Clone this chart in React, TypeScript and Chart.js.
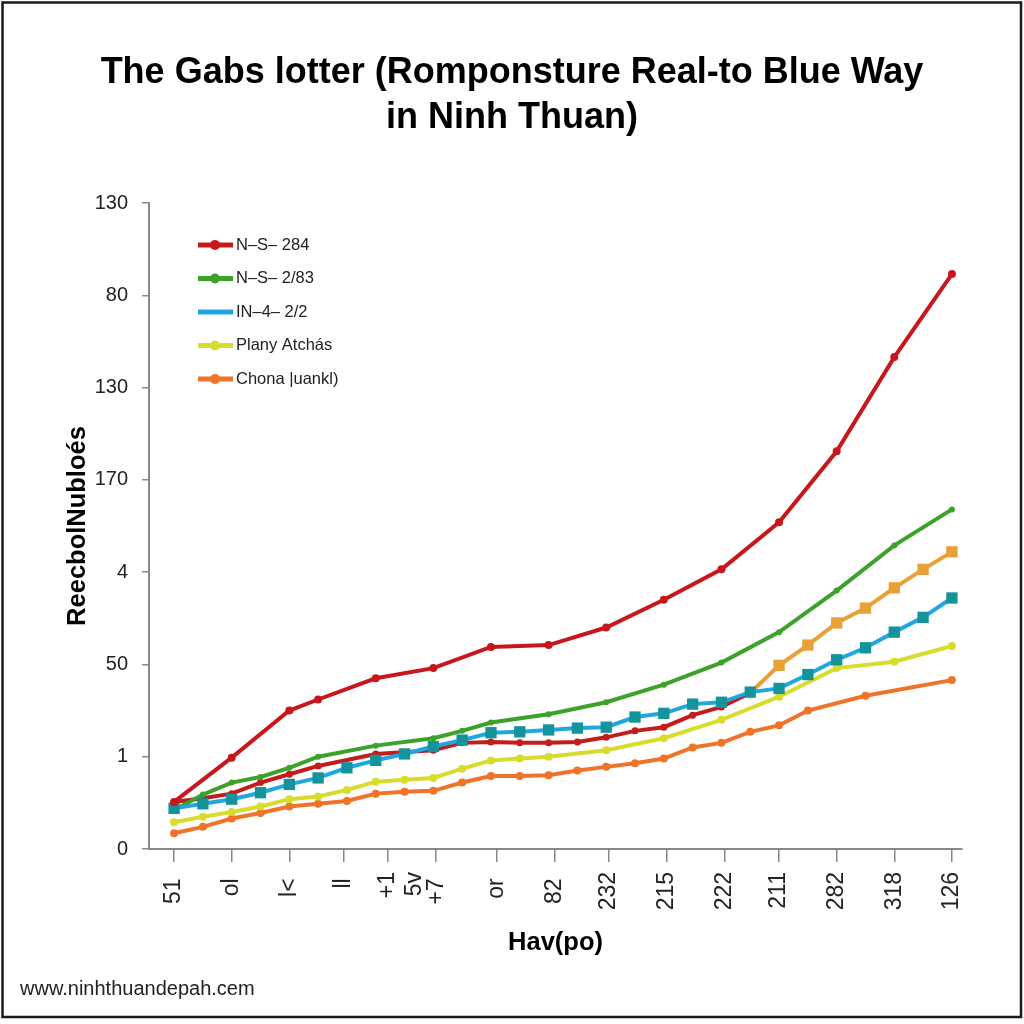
import React, { useEffect, useRef } from 'react';
import { Chart, registerables } from 'chart.js';

Chart.register(...registerables);

// ---------- data ----------
const titleLines = ['The Gabs lotter (Romponsture Real-to Blue Way', 'in Ninh Thuan)'];
const yAxisTitle = 'ReecbolNubloés';
const xAxisTitle = 'Hav(po)';
const watermark = 'www.ninhthuandepah.cem';

const yTickLabels = ['0', '1', '50', '4', '170', '130', '80', '130'];
const xTickLabels: (string | string[])[] = ['51', 'ol', 'l<', 'll', ['+1', '5v'], '+7', 'or', '82', '232', '215', '222', '211', '282', '318', '126'];
const xTickPositions = [0, 2, 4, 5.9, 7.4, 9.1, 11.2, 13.2, 15.1, 17.1, 19.1, 21, 23, 25, 27];

const seriesLabels = ['N–S– 284', 'N–S– 2/83', 'IN–4– 2/2', 'Plany Atchás', 'Chona |uankl)'];

const redX = [0, 2, 4, 5, 7, 9, 11, 13, 15, 17, 19, 21, 23, 25, 27];
const redY = [0.51, 0.99, 1.5, 1.62, 1.85, 1.96, 2.19, 2.21, 2.4, 2.7, 3.03, 3.54, 4.31, 5.33, 6.23];

const greenX = [0, 1, 2, 3, 4, 5, 7, 9, 10, 11, 13, 15, 17, 19, 21, 23, 25, 27];
const greenY = [0.42, 0.59, 0.72, 0.78, 0.88, 1.0, 1.12, 1.2, 1.28, 1.37, 1.46, 1.59, 1.78, 2.02, 2.35, 2.8, 3.29, 3.68];

const blueX = [0, 1, 2, 3, 4, 5, 6, 7, 8, 9, 10, 11, 12, 13, 14, 15, 16, 17, 18, 19, 20, 21, 22, 23, 24, 25, 26, 27];
const blueY = [0.44, 0.49, 0.54, 0.61, 0.7, 0.77, 0.88, 0.96, 1.03, 1.11, 1.18, 1.26, 1.27, 1.29, 1.31, 1.32, 1.43, 1.47, 1.57, 1.59, 1.7, 1.74, 1.89, 2.05, 2.18, 2.35, 2.51, 2.72];

const yellowX = [0, 1, 2, 3, 4, 5, 6, 7, 8, 9, 10, 11, 12, 13, 15, 17, 19, 21, 23, 25, 27];
const yellowY = [0.29, 0.35, 0.4, 0.46, 0.54, 0.57, 0.64, 0.73, 0.75, 0.77, 0.87, 0.96, 0.98, 1.0, 1.07, 1.2, 1.4, 1.65, 1.96, 2.03, 2.2];

const orangeX = [0, 1, 2, 3, 4, 5, 6, 7, 8, 9, 10, 11, 12, 13, 14, 15, 16, 17, 18, 19, 20, 21, 22, 24, 27];
const orangeY = [0.17, 0.24, 0.33, 0.39, 0.46, 0.49, 0.52, 0.6, 0.62, 0.63, 0.72, 0.79, 0.79, 0.8, 0.85, 0.89, 0.93, 0.98, 1.1, 1.15, 1.27, 1.34, 1.5, 1.66, 1.83];

// unlabeled dark-red line that turns amber
const lowerX = [0, 1, 2, 3, 4, 5, 7, 9, 10, 11, 12, 13, 14, 15, 16, 17, 18, 19, 20, 21, 22, 23, 24, 25, 26, 27];
const lowerY = [0.51, 0.55, 0.6, 0.72, 0.81, 0.9, 1.03, 1.07, 1.15, 1.16, 1.15, 1.15, 1.16, 1.21, 1.28, 1.32, 1.45, 1.54, 1.69, 1.99, 2.21, 2.45, 2.61, 2.83, 3.03, 3.22];
const lowerSwitchX = 20;

// ---------- styles ----------
const SANS = '"Liberation Sans", Arial, sans-serif';
const RED = '#c8161d';
const GREEN = '#3ca22a';
const BLUE = '#20a7e2';
const TEAL = '#14939b';
const YELLOW = '#d8dc2c';
const ORANGE = '#f0732a';
const DARKRED = '#c41b1b';
const AMBER = '#e9a036';

const toPts = (xs: number[], ys: number[]) => ys.map((y, i) => ({ x: xs[i], y }));

const legendPlugin = {
  id: 'insideLegend',
  afterDatasetsDraw(chart: any) {
    const { ctx } = chart;
    ctx.save();
    const items = chart.data.datasets.filter((d: any) => d.inLegend);
    items.forEach((d: any, i: number) => {
      const y = 245 + i * 33.5;
      ctx.strokeStyle = d.borderColor;
      ctx.lineWidth = 5;
      ctx.beginPath();
      ctx.moveTo(198, y);
      ctx.lineTo(233, y);
      ctx.stroke();
      if (d.legendMarker) {
        ctx.fillStyle = d.borderColor;
        ctx.beginPath();
        ctx.arc(215, y, 5, 0, Math.PI * 2);
        ctx.fill();
      }
      ctx.fillStyle = '#222';
      ctx.font = `16.5px ${SANS}`;
      ctx.textBaseline = 'middle';
      ctx.textAlign = 'left';
      ctx.fillText(d.label, 236, y);
    });
    ctx.restore();
  },
};

const framePlugin = {
  id: 'frameAndMark',
  afterDraw(chart: any) {
    const { ctx } = chart;
    ctx.save();
    ctx.strokeStyle = '#1a1a1a';
    ctx.lineWidth = 2.5;
    ctx.strokeRect(2.5, 2.5, 1018.5, 1014.5);
    ctx.fillStyle = '#222';
    ctx.font = `20px ${SANS}`;
    ctx.textBaseline = 'alphabetic';
    ctx.textAlign = 'left';
    ctx.fillText(watermark, 20, 995);
    ctx.restore();
  },
};

export default function App() {
  const ref = useRef<HTMLCanvasElement | null>(null);

  useEffect(() => {
    if (!ref.current) return;
    const chart = new Chart(ref.current, {
      type: 'line',
      data: {
        datasets: [
          {
            label: seriesLabels[0], data: toPts(redX, redY), inLegend: true, legendMarker: true,
            borderColor: RED, backgroundColor: RED, borderWidth: 4, pointRadius: 4, pointBorderWidth: 0,
            pointBackgroundColor: RED, order: 0,
          } as any,
          {
            label: seriesLabels[1], data: toPts(greenX, greenY), inLegend: true, legendMarker: true,
            borderColor: GREEN, backgroundColor: GREEN, borderWidth: 4, pointRadius: 3, pointBorderWidth: 0,
            pointBackgroundColor: GREEN, order: 2,
          } as any,
          {
            label: seriesLabels[2], data: toPts(blueX, blueY), inLegend: true, legendMarker: false,
            borderColor: BLUE, backgroundColor: TEAL, borderWidth: 4, pointStyle: 'rect', pointRadius: 8,
            pointBorderWidth: 0, pointBackgroundColor: TEAL, order: 1,
          } as any,
          {
            label: seriesLabels[3], data: toPts(yellowX, yellowY), inLegend: true, legendMarker: true,
            borderColor: YELLOW, backgroundColor: YELLOW, borderWidth: 4, pointRadius: 4, pointBorderWidth: 0,
            pointBackgroundColor: YELLOW, order: 4,
          } as any,
          {
            label: seriesLabels[4], data: toPts(orangeX, orangeY), inLegend: true, legendMarker: true,
            borderColor: ORANGE, backgroundColor: ORANGE, borderWidth: 4, pointRadius: 4, pointBorderWidth: 0,
            pointBackgroundColor: ORANGE, order: 5,
          } as any,
          {
            label: '', data: toPts(lowerX, lowerY), inLegend: false,
            borderColor: DARKRED, borderWidth: 4, pointBorderWidth: 0,
            pointRadius: lowerX.map((x) => (x > lowerSwitchX ? 8 : 3.5)),
            pointStyle: lowerX.map((x) => (x > lowerSwitchX ? 'rect' : 'circle')),
            pointBackgroundColor: lowerX.map((x) => (x > lowerSwitchX ? AMBER : DARKRED)),
            segment: { borderColor: (c: any) => (c.p0.parsed.x >= lowerSwitchX ? AMBER : DARKRED) },
            order: 3,
          } as any,
        ],
      },
      options: {
        responsive: false,
        devicePixelRatio: 1,
        animation: false,
        events: [],
        layout: { padding: { left: 31, right: 31, top: 0, bottom: 0 } },
        plugins: {
          legend: { display: false },
          tooltip: { enabled: false },
          title: {
            display: true,
            text: titleLines,
            color: '#000',
            font: { family: SANS, size: 36, weight: 'bold', lineHeight: 1.25 },
            padding: { top: 51, bottom: 62 },
          },
        },
        scales: {
          x: {
            type: 'linear',
            min: -0.87,
            max: 27.35,
            afterBuildTicks: (s: any) => {
              s.ticks = xTickPositions.map((v) => ({ value: v }));
            },
            afterFit: (s: any) => {
              s.height = 175;
            },
            ticks: {
              autoSkip: false,
              minRotation: 90,
              maxRotation: 90,
              padding: 10,
              color: '#222',
              font: { family: SANS, size: 23 },
              callback: (_v: any, i: number) => {
                const s = xTickLabels[i];
                return typeof s === 'string' && s.length < 3 ? s + ' ' : s;
              },
            },
            grid: { drawOnChartArea: false, drawTicks: true, tickLength: 13, color: '#888', lineWidth: 1.5 },
            border: { display: true, color: '#888', width: 2 },
            title: {
              display: true,
              text: xAxisTitle,
              color: '#000',
              font: { family: SANS, size: 25.5, weight: 'bold' },
              padding: { top: 0, bottom: 66 },
            },
          },
          y: {
            type: 'linear',
            min: 0,
            max: 7,
            afterFit: (s: any) => {
              s.width = 118;
            },
            ticks: {
              stepSize: 1,
              padding: 14,
              color: '#222',
              font: { family: SANS, size: 20 },
              callback: (_v: any, i: number) => yTickLabels[i],
            },
            grid: { drawOnChartArea: false, drawTicks: true, tickLength: 7, color: '#888', lineWidth: 1.5 },
            border: { display: true, color: '#888', width: 2 },
            title: {
              display: true,
              text: yAxisTitle,
              color: '#000',
              font: { family: SANS, size: 25.5, weight: 'bold' },
              padding: { top: 32, bottom: 0 },
            },
          },
          ySpacer: {
            type: 'linear',
            position: 'right',
            display: true,
            afterFit: (s: any) => {
              s.width = 31;
            },
            ticks: { display: false },
            grid: { display: false },
            border: { display: false },
          },
        },
      } as any,
      plugins: [legendPlugin, framePlugin],
    });
    return () => chart.destroy();
  }, []);

  return (
    <div style={{ position: 'absolute', left: 0, top: 0, width: 1024, height: 1024, background: '#fff' }}>
      <canvas ref={ref} width={1024} height={1024} style={{ display: 'block' }} />
    </div>
  );
}
